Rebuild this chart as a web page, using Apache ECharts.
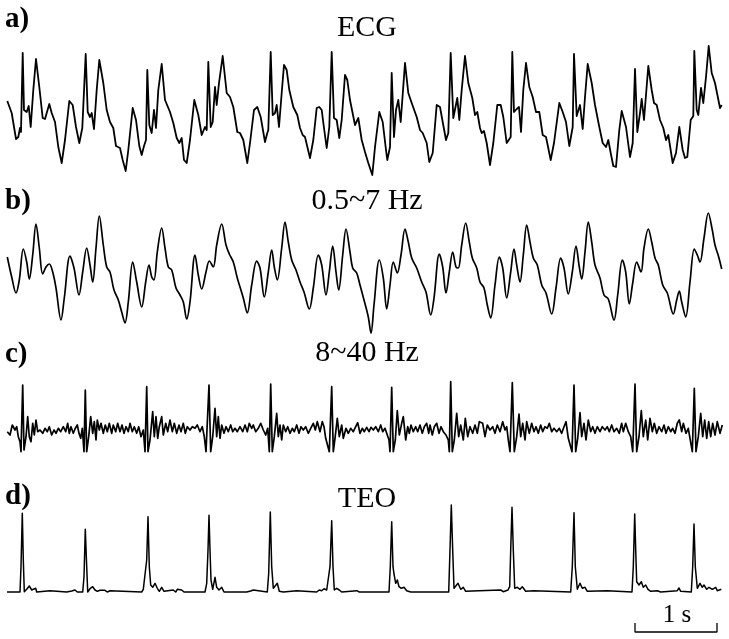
<!DOCTYPE html>
<html>
<head>
<meta charset="utf-8">
<script src="https://cdn.jsdelivr.net/npm/echarts@6/dist/echarts.min.js"></script>
<style>
  html, body { margin: 0; padding: 0; background: #fff; }
  #chart { width: 729px; height: 639px; }
</style>
</head>
<body>
<div id="chart"></div>
<script>
// 采样点: [sample, amplitude]，fs = 82 samples / s
const fs = 82;

const ecgRaw = [
  [7.3,19],[11.7,7],[16,-19],[18.3,-17],[20,-8],[21,-12],[22.7,67],[24,10],[26.7,8],[28.7,14],[30.7,-7],
  [33.3,30],[36,61],[39.3,33],[42.7,2],[45,1],[49.3,16],[51.7,7],[55,-2],[58.3,-27],[61.7,-43],[65,-20],
  [69.3,19],[72.7,15],[76,-7],[79.3,-23],[82.3,-8],[84,-10],[85.7,66],[87.7,8],[90,3],[91.7,7],[94,-9],
  [96.7,30],[99.3,60],[103.3,37],[106.7,10],[110,-2],[113.3,-8],[116,-26],[120,-28],[122.7,-40],[125.7,-51],
  [128.3,-30],[132.7,12],[136,0],[139.3,-26],[141.7,-35],[144,-26],[146,-20],[147.3,50],[149.3,-5],
  [151.7,-13],[154,10],[156,-8],[158.3,30],[161.7,56],[165,20],[170,8],[173.3,-3],[176.7,-18],[179.3,-23],
  [181.7,-18],[184,-40],[186.7,-43],[190,-20],[194.3,20],[198.3,5],[201.7,-15],[205,-7],[206.7,-10],
  [208.3,58],[210.7,-7],[212.7,-2],[215,33],[216.7,15],[219,37],[222.7,64],[226.7,27],[230,23],[233.3,13],
  [237.3,-12],[240,-13],[243.3,-20],[247.3,-43],[250,-23],[254,10],[257.3,13],[260.7,3],[265,-22],
  [267.3,-13],[268.3,-10],[270.7,68],[272.7,5],[275,7],[276.7,15],[279,-7],[281.7,27],[284,55],[286.7,50],
  [289.3,30],[293.3,13],[297.3,5],[300,-8],[302.7,-15],[305,-17],[310,-38],[313.3,-20],[316.7,12],
  [319.3,13],[321.7,10],[324,-8],[326.7,-28],[329.3,-7],[331.7,68],[334,2],[336.7,0],[339.3,-18],
  [341.7,0],[345,45],[347.3,40],[350,20],[355,-5],[358.3,2],[361.7,-20],[365,-32],[368.3,-43],[372.3,-55],
  [375,-27],[379.3,8],[382.7,-2],[386,-30],[387.3,-40],[390,-27],[391.7,47],[394,-17],[396,10],[398.3,20],
  [400.7,-2],[405,57],[408.3,27],[411.7,17],[416.7,3],[420,-10],[422.7,-13],[426.7,-23],[429.3,-42],
  [432.7,-33],[436.7,15],[440,13],[442.7,-2],[446,-20],[448.3,-13],[450.7,67],[453.3,2],[457.3,22],
  [459.3,0],[461.7,30],[465,64],[468.3,37],[472.3,22],[475,5],[477.3,8],[480,-8],[481.7,-13],[484,-11],
  [486.7,-23],[490,-45],[493.3,-23],[497.3,15],[500.7,15],[503.3,3],[506.7,-23],[510.7,-17],[512.3,68],
  [514,8],[516.7,11],[519,13],[521,-12],[523.3,30],[526,57],[529.3,33],[532.7,23],[536,8],[539.3,8],
  [542.7,-15],[546,-17],[550.7,-40],[554,-23],[559.3,17],[562.7,8],[566,-2],[569.3,-26],[572.7,-7],
  [574,66],[576.7,4],[580,15],[582.7,-9],[585,23],[587.7,56],[591.7,37],[595,15],[599.3,-7],[602.7,-23],
  [606,-27],[608.3,-20],[610.7,-33],[613.3,-46],[616,-47],[619.3,-10],[621.7,9],[626,-7],[630,-37],
  [632.7,-23],[635,51],[637.3,-12],[640,7],[641.7,21],[644,0],[648.3,54],[651.7,30],[654,17],[656.7,15],
  [660,0],[663.3,-8],[666,-20],[668.3,-15],[672.7,-43],[676,-33],[679.3,-7],[682.7,-30],[685,-38],
  [687.3,-37],[690.7,0],[693.3,4],[694.3,69],[696.7,10],[698.3,5],[701,32],[703.3,17],[706,43],[708.7,74],
  [711.7,47],[715,37],[716.7,38],[720,12],[721.7,15]
];

const lowBand = [
  [7.3,13],[11.7,-7],[16,-23],[19.3,-10],[23.3,21],[26.7,8],[29.3,-9],[32.7,15],[36,46],[39.3,22],
  [42.7,-4],[46,3],[49.3,6],[52.7,-2],[56,-18],[61,-50],[64.3,-28],[70,14],[74,2],[79,-25],[82.7,-2],
  [86.7,22],[90,5],[92.7,-12],[96,22],[99.3,54],[103.3,25],[106.7,3],[110,-2],[114,-20],[118.3,-30],
  [121.7,-42],[125,-53],[128.3,-32],[132.7,8],[136.7,-12],[141.7,-37],[145.7,-12],[149,5],[151.7,-7],
  [154,-10],[157.3,18],[161.7,42],[165,22],[168.3,3],[171.7,0],[176,-18],[180,-25],[183.3,-32],
  [186.7,-49],[190,-32],[195,15],[198.3,-5],[201.7,-19],[206,-2],[209.3,9],[213.3,3],[216.7,25],
  [221.7,46],[226,25],[229.3,16],[233.3,8],[237.3,-8],[240,-17],[243.3,-28],[247.3,-43],[251.7,-15],
  [256.7,9],[260,2],[264.3,-27],[268.3,-2],[271.7,20],[274.3,3],[277.3,-10],[281.7,22],[285,48],
  [288.3,28],[291.7,10],[296,0],[300,-12],[304,-22],[309.3,-39],[313.3,-18],[318.3,15],[321.7,5],
  [326,-25],[329.3,-2],[332.7,24],[336,-2],[338.7,-20],[342.7,15],[346,41],[350,18],[352.7,2],
  [356.7,-3],[360,-15],[364,-30],[368.3,-47],[371,-63],[374,-35],[379.3,10],[383.3,-8],[386.7,-39],
  [390,-15],[393.3,8],[397.3,-3],[401,15],[405,41],[408.3,28],[411.7,12],[416.7,2],[421.7,-12],
  [426,-22],[430.7,-45],[434,-28],[439.3,16],[442.7,3],[446,-23],[449.3,-2],[452.7,18],[456,3],
  [458.3,2],[461.7,25],[465.7,47],[469.3,28],[472.3,12],[476.7,2],[480,-12],[484,-18],[487.3,-35],
  [490.7,-48],[495,-15],[499.3,13],[502.7,2],[506.7,-28],[510.7,-2],[514,21],[516.7,5],[520,-12],
  [523.3,15],[526.7,45],[530,28],[533.3,12],[537.3,5],[541.7,-15],[546,-23],[551.7,-44],[556,-18],
  [560.7,12],[564,2],[568.3,-24],[572.3,-2],[576,24],[579.3,3],[581.7,-9],[585,18],[588.3,48],
  [591.7,28],[595,5],[600,-8],[604,-25],[608.3,-29],[614,-50],[617.7,-25],[622.3,10],[625.7,-2],
  [629.3,-34],[632.7,-13],[636.7,8],[641,-2],[644,22],[648.3,41],[651.7,28],[655,12],[658.3,5],
  [662.7,-15],[667.3,-23],[673.3,-44],[676.7,-30],[679.3,-21],[681.7,-32],[685.7,-47],[690,-12],
  [694.3,21],[697.3,15],[700,8],[704,32],[708.3,57],[712.3,40],[715,25],[718.7,13],[721.7,1]
];

const highBand = [
  [7.3,-1.7],[10,-5],[12.3,5],[15,0],[16.7,3.3],[18.3,-6.7],[20,-11.7],[21,-21.7],[22.7,45],[24,-20],
  [26,-6.7],[27.7,13.3],[29.3,-6.7],[31,-11.7],[32.7,6.7],[34.3,-5],[36,10],[37.7,-1.7],[40,0],
  [42.7,-3.3],[45,1.7],[47.3,-1.7],[49.3,3.3],[51.7,-5],[54,0],[56,-3.3],[58.3,1.7],[60.7,-1.7],
  [63.3,3.3],[65.7,-1.7],[67.7,6.7],[69.3,-3.3],[71,3.3],[73.3,-3.3],[75.3,1.7],[77.3,5],[79,-3.3],
  [80.7,-8.3],[82.3,1.7],[84,-21.7],[85.3,40],[86.7,-21.7],[88.7,-6.7],[90.7,13.3],[92.7,-3.3],
  [94.3,8.3],[96,-10],[97.3,10],[99.3,0],[101,6.7],[103.3,-3.3],[105.3,5],[107.3,-1.7],[109.3,6.7],
  [111.7,-3.3],[113.3,5],[115.7,-1.7],[117.7,6.7],[120,-1.7],[122,5],[124,-3.3],[126,3.3],[128.3,-1.7],
  [130,6.7],[132.3,-1.7],[134.3,3.3],[136.7,-3.3],[138.7,3.3],[141,-6.7],[143.3,0],[145,-21.7],
  [146.7,43.3],[148,-21.7],[150,-10],[152.7,18.3],[154.3,-6.7],[156,13.3],[157.7,-8.3],[159.3,3.3],
  [161.7,13.3],[163.3,-5],[165.7,6.7],[167.7,-1.7],[170,10],[172.3,-1.7],[174.3,6.7],[176.7,-3.3],
  [179,5],[181,-1.7],[183.3,6.7],[185.3,-3.3],[187.3,3.3],[190,0],[192.3,3.3],[195,1.7],[197.3,5],
  [200,-1.7],[202.3,3.3],[204.3,-6.7],[206,-21.7],[209,45],[210.7,-21.7],[212.7,-6.7],[215,21.7],
  [216.7,-6.7],[218.3,13.3],[220,-8.3],[221.7,5],[224,-3.3],[226,3.3],[228.3,-1.7],[230.7,5],
  [232.7,-1.7],[235,1.7],[237.3,-1.7],[240,3.3],[242.7,-1.7],[245,5],[247.3,-1.7],[249.3,6.7],
  [251.7,1.7],[253.3,5],[255.7,-1.7],[258.3,1.7],[260.7,6.7],[263.3,0],[265.7,-5],[267.7,1.7],
  [269.3,-21.7],[270.7,46],[272.3,-21.7],[274.3,-6.7],[276.7,16.7],[278.3,-6.7],[280,5],[281.7,-10],
  [283.3,5],[285.7,-1.7],[287.7,3.3],[290,-3.3],[292.3,1.7],[294.3,-1.7],[296.7,5],[299,-3.3],[301,3.3],
  [303.3,0],[305.7,3.3],[308.3,-3.3],[310.7,1.7],[313.3,6.7],[315.3,0],[317.3,8.3],[320,-1.7],
  [322.3,8.3],[324,3.3],[325.7,-8.3],[327.3,-6.7],[329.3,-21.7],[331.7,43.3],[333.3,-21.7],[335,-8.3],
  [337.3,11.7],[339.3,-6.7],[341.7,5],[343.3,-8.3],[346,1.7],[348.3,-3.3],[350.7,1.7],[353.3,-1.7],
  [355.7,3.3],[357.7,7.3],[360,-3.3],[362.3,1.7],[364.3,-1.7],[366.7,2.7],[369,-1.7],[371,2.7],
  [373.3,0],[375.7,3.3],[378.3,-1.7],[380.7,5],[382.7,-1.7],[385,1.7],[386.7,-3.3],[389,-10],
  [390,-21.7],[391.7,42.7],[393.3,-21.7],[395.3,-10],[397.3,19.3],[399.3,-5],[401.7,6.7],[403.3,13.3],
  [405.7,-10],[407.7,3.3],[409.3,-3.3],[411,5],[413.3,-1.7],[415.7,3.3],[417.7,-1.7],[420,5],
  [422.3,-3.3],[424.3,3.3],[426.7,6.7],[428.7,-3.3],[430,5],[432.3,-5],[434.3,3.3],[436.7,6.7],
  [439,-3.3],[441,3.3],[443.3,-1.7],[446,-5],[448.3,-10],[449.3,-21.7],[450.7,48.3],[452.3,-21.7],
  [454.3,-10],[456.7,16.7],[458.7,-6.7],[460.7,5],[463.3,-10],[465.3,11.7],[467.7,-6.7],[470,3.3],
  [472.7,-3.3],[475,5],[477.3,-3.3],[479.3,8.3],[482.7,6.7],[485,-6.7],[487.3,5],[490,0],[492.7,3.3],
  [495,-3.3],[497.3,5],[500,-1.7],[502.7,8.3],[505,0],[506.7,3.3],[508.3,-10],[510,-21.7],[512.3,47.3],
  [514.3,-21.7],[516.7,-6.7],[519,16],[520.7,-6.7],[522.7,6.7],[525,-10],[526.7,8.3],[529.3,-3.3],
  [531.7,6.7],[534,-1.7],[536,3.3],[538.3,-3.3],[540.7,5],[542.7,-1.7],[545,3.3],[547.3,1.7],[549.3,6.7],
  [551.7,-1.7],[554,1.7],[556.7,-1.7],[559.3,1.7],[561.7,-3.3],[564,3.3],[566,8.3],[568.3,-8.3],
  [570,-6.7],[572,-21.7],[574,45],[575.7,-21.7],[577.7,-8.3],[580,17.3],[581.7,-6.7],[584,6.7],
  [586,-10],[588.3,10],[590.7,-1.7],[592.7,3.3],[595,-3.3],[597.3,3.3],[600,-1.7],[602.3,3.3],[605,0],
  [607.3,3.3],[609.3,-1.7],[611.7,5],[614,-1.7],[616.7,1.7],[619.3,-3.3],[621.7,6.7],[623.3,-1.7],
  [625.7,6.7],[628.3,-1.7],[630.7,-6.7],[632.7,-21.7],[635,46],[636.7,-21.7],[639,-6.7],[641.3,19.3],
  [643.3,-6.7],[645.7,10],[647.7,-10],[650,11.7],[652.3,-1.7],[654.3,6.7],[656.7,-3.3],[659,3.3],
  [661.7,-1.7],[664,5],[666,-3.3],[668.3,3.3],[670.7,-1.7],[672.7,1.7],[675,-3.3],[677.3,6.7],[679.3,10],
  [681.7,-1.7],[683.3,6.7],[686,-3.3],[688.3,1.7],[690,-8.3],[692.3,-21.7],[694.3,41.7],[696,-21.7],
  [698.3,-6.7],[700.7,16.7],[702.7,-6.7],[704.7,10],[706.7,-8.3],[708.7,8.3],[710.7,-6.7],[712.7,6.7],
  [715,-5],[717.3,8.3],[720,-3.3],[722.3,5]
];

const teo = [
  [7,0],[20,0],[21,25.3],[22.3,78.7],[23.3,32],[24.3,0.3],[26.7,2.7],[29.3,6],[31.7,2],[33.3,0],[35.7,3.7],
  [36.7,0],[50,1.3],[51.7,0],[66.7,0],[68.3,1.7],[71.7,1],[75,2],[77.3,0],
  [82.7,0],[84,15.3],[85.3,62.7],[86.7,25.3],[87.7,0],[90,3.3],[92.7,5.3],[95,2],[97.3,0.7],[100,1.7],
  [101.7,0],[105,1.7],[107.3,0],[110,1.3],[111.7,0],
  [141.7,0],[143.3,2.7],[145,4.7],[146.7,32],[148,75.3],[149.3,25.3],[150.7,7],[152.7,4.7],[155,8.7],
  [157.3,3.7],[159.3,0.7],[161.7,4.7],[164,0.7],[173.3,2],[175.7,0],[177.3,2.7],[179.3,0.7],[181.7,2],[184,0],
  [205,0],[206.7,8.7],[208,42],[209,76.7],[210,42],[211,12],[212.7,2.7],[215,14.7],[216.7,4.7],[219,2],
  [221.7,4.7],[224,0],[246.7,0],[248.3,2],[250.7,1],[253.3,2],[255,0],
  [267.3,0],[268.7,18.7],[270.3,80],[271.7,25.3],[273.3,3.7],[275.3,2],[277.3,8.7],[279.3,0.7],[283.3,0],
  [296.7,1.3],[298.3,0],
  [316.7,0],[319.3,2],[321.7,1.3],[324,3.3],[326.7,2],[328.7,0.3],[330,25.3],[331.7,71.3],[333,25.3],
  [334.3,2],[336.7,3.7],[339.3,2],[341.7,0],[356.7,1.3],[359.3,0],
  [389,0],[390.3,25.3],[391.7,70.3],[393,25.3],[394,18],[395.7,8.7],[397.3,12],[399,5.3],[401.3,3.7],
  [404,4.7],[406.7,1.3],[410.7,0],[430.7,0],[432.3,1.3],[434.7,0],
  [448.7,0],[450,42],[451.3,87],[452.7,42],[454,3.7],[456,4.7],[458,8.7],[460.7,2.7],[463.3,4.7],
  [465.7,0.7],[479,1.3],[480.7,0],[500.7,2],[503.3,0.3],
  [508,2],[509.7,5.3],[510.7,42],[512,84.7],[513.3,42],[514.7,3.7],[517.3,4.7],[520,2.7],[522.3,5.3],
  [525.7,0.7],[534,1.3],[535.7,0],
  [570.7,0],[572.3,25.3],[574,79.3],[575.3,25.3],[577.3,2.7],[580,8.7],[582.3,3.7],[585,4.7],[587.3,0.7],
  [607.3,1.3],[609,0],
  [632,0],[633.3,25.3],[634.7,78],[636,32],[636.7,10.3],[639,7],[641.3,10.3],[643.3,4.7],[645.7,7],
  [648,2.7],[650.7,0.7],[657.3,1.3],[660.7,0],[677.3,1.3],[679,4],[680.7,0.7],
  [691.3,0],[692.7,25.3],[694,68],[695.3,25.3],[697.3,3.7],[700,8.7],[702.3,4.7],[704,7],[706.7,2.7],
  [709,4.7],[712.3,2.7],[715.7,4.7],[717.3,1.3],[721.3,2.7]
];

// 1 s 比例尺
const scaleBarStart = 635;
const scaleBarTick = [-31, -40];

const panelLabels = ['a)', 'b)', 'c)', 'd)'];
const panelTitles = ['ECG', '0.5~7 Hz', '8~40 Hz', 'TEO'];

// 每个面板的绘图区 (像素) 与纵轴范围
const panels = [
  { top: 40,  height: 140, yMin: -60, yMax: 80, data: ecgRaw,   smooth: false, width: 1.8, labelY: 20,  titleY: 28 },
  { top: 205, height: 135, yMin: -70, yMax: 65, data: lowBand,  smooth: 0.35,  width: 1.7, labelY: 202, titleY: 201 },
  { top: 375, height: 80,  yMin: -25, yMax: 55, data: highBand, smooth: false, width: 1.7, labelY: 355, titleY: 353 },
  { top: 500, height: 139, yMin: -47, yMax: 92, data: teo,      smooth: false, width: 1.5, labelY: 497, titleY: 499 }
];

const serif = '"Liberation Serif", "DejaVu Serif", serif';

const chart = echarts.init(document.getElementById('chart'));

const grids = [], xAxes = [], yAxes = [], series = [], texts = [];

panels.forEach((p, i) => {
  grids.push({ left: 0, width: 729, top: p.top, height: p.height });
  xAxes.push({ type: 'value', gridIndex: i, min: 0, max: 729, show: false });
  yAxes.push({ type: 'value', gridIndex: i, min: p.yMin, max: p.yMax, show: false });
  series.push({
    type: 'line',
    xAxisIndex: i,
    yAxisIndex: i,
    data: p.data,
    showSymbol: false,
    smooth: p.smooth,
    lineStyle: { color: '#000', width: p.width, join: 'round' },
    animation: false
  });
  texts.push({
    type: 'text', left: 5, top: p.labelY - 15,
    style: { text: panelLabels[i], font: 'bold 29px ' + serif, fill: '#000' }
  });
  texts.push({
    type: 'text', x: 367, y: p.titleY,
    style: {
      text: panelTitles[i], font: '30px ' + serif, fill: '#000',
      align: 'center', verticalAlign: 'middle'
    }
  });
});

// 比例尺画在 TEO 面板里
series.push({
  type: 'line',
  xAxisIndex: 3,
  yAxisIndex: 3,
  data: [
    [scaleBarStart, scaleBarTick[0]],
    [scaleBarStart, scaleBarTick[1]],
    [scaleBarStart + fs, scaleBarTick[1]],
    [scaleBarStart + fs, scaleBarTick[0]]
  ],
  showSymbol: false,
  lineStyle: { color: '#000', width: 1.3 },
  animation: false
});
texts.push({
  type: 'text', x: 677, y: 615,
  style: { text: '1 s', font: '25px ' + serif, fill: '#000', align: 'center', verticalAlign: 'middle' }
});

chart.setOption({
  backgroundColor: '#fff',
  animation: false,
  grid: grids,
  xAxis: xAxes,
  yAxis: yAxes,
  series: series,
  graphic: texts
});
</script>
</body>
</html>
